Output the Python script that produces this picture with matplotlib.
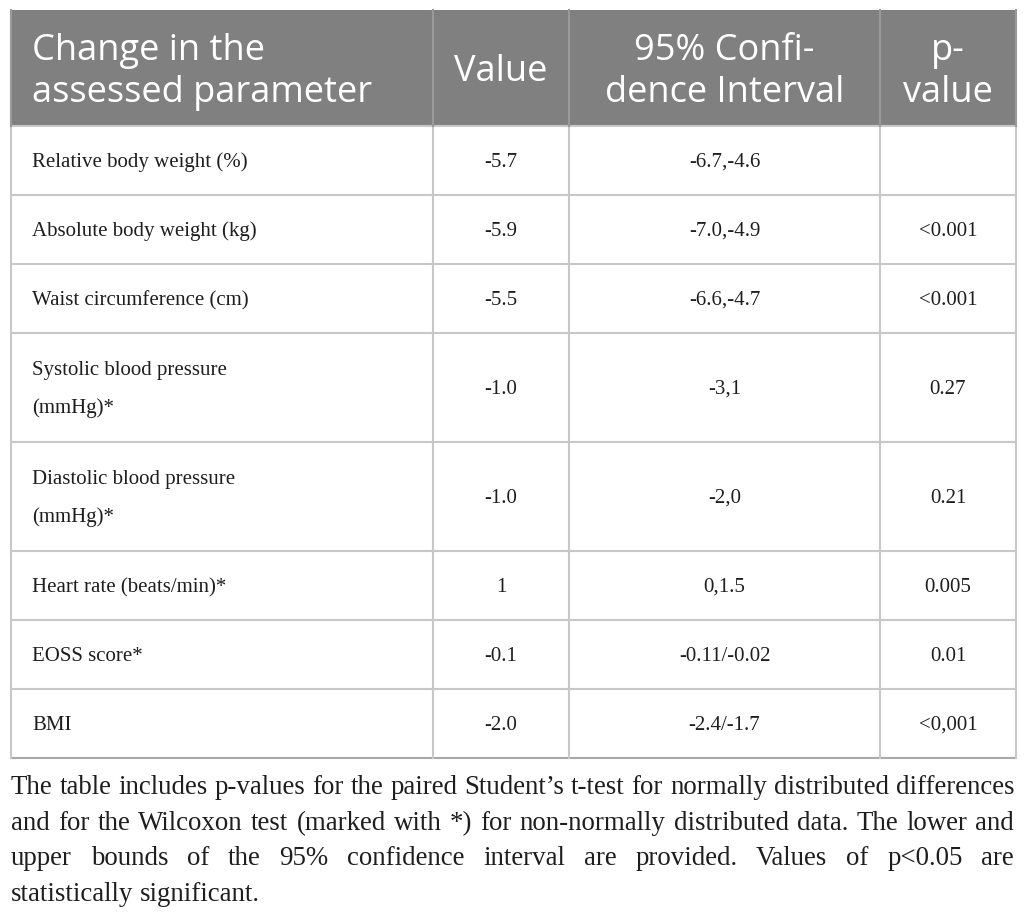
import matplotlib
matplotlib.use("Agg")
from matplotlib import pyplot as plt
from matplotlib.patches import Rectangle

# table content
header = ["Change in the\nassessed parameter", "Value", "95% Confi-\ndence Interval", "p-\nvalue"]
parameters = [
    "Relative body weight (%)",
    "Absolute body weight (kg)",
    "Waist circumference (cm)",
    "Systolic blood pressure\n(mmHg)*",
    "Diastolic blood pressure\n(mmHg)*",
    "Heart rate (beats/min)*",
    "EOSS score*",
    "BMI",
]
values = ["-5.7", "-5.9", "-5.5", "-1.0", "-1.0", "1", "-0.1", "-2.0"]
conf_int = ["-6.7,-4.6", "-7.0,-4.9", "-6.6,-4.7", "-3,1", "-2,0", "0,1.5", "-0.11/-0.02", "-2.4/-1.7"]
p_values = ["", "<0.001", "<0.001", "0.27", "0.21", "0.005", "0.01", "<0,001"]
foot_lines = [
    "The table includes p-values for the paired Student\u2019s t-test for normally distributed differences",
    "and for the Wilcoxon test (marked with *) for non-normally distributed data. The lower and",
    "upper bounds of the 95% confidence interval are provided. Values of p<0.05 are",
    "statistically significant.",
]

# layout in pixels
W, H = 1026, 918
col_x = [11, 433, 569, 880, 1016]
row_y = [10, 126, 195, 264, 333, 442, 551, 620, 689, 758]

fig = plt.figure(figsize=(W / 100, H / 100), dpi=100)
ax = fig.add_axes([0, 0, 1, 1])
ax.set_xlim(0, W)
ax.set_ylim(H, 0)
ax.axis("off")

# header band
ax.add_patch(Rectangle((col_x[0], row_y[0]), col_x[-1] - col_x[0], row_y[1] - row_y[0],
                       facecolor="#808080", edgecolor="none"))

# grid lines
line_c = "#c8c8c8"
for y in row_y[1:-1]:
    ax.plot([col_x[0], col_x[-1]], [y, y], color=line_c, lw=1.5, solid_capstyle="butt")
ax.plot([col_x[0], col_x[-1]], [row_y[-1], row_y[-1]], color="#a8a8a8", lw=1.5)
for x in col_x:
    ax.plot([x, x], [row_y[1], row_y[-1]], color=line_c, lw=1.5)
    ax.plot([x, x], [row_y[0], row_y[1]], color="#9a9a9a", lw=1.5)

head_font = ["Open Sans", "DejaVu Sans"]
body_font = ["Liberation Serif", "DejaVu Serif"]
ink = "#1e1e1e"
hy = (row_y[0] + row_y[1]) / 2 + 4
ax.text(32, hy, header[0], ha="left", va="center", color="white", fontsize=26,
        family=head_font, linespacing=1.22)
for j in range(1, 4):
    cx = (col_x[j] + col_x[j + 1]) / 2
    ax.text(cx, hy, header[j], ha="center", va="center", color="white", fontsize=26,
            family=head_font, linespacing=1.22, multialignment="center")

cols = [values, conf_int, p_values]
for i in range(len(parameters)):
    cy = (row_y[i + 1] + row_y[i + 2]) / 2 + 2
    ax.text(32, cy, parameters[i], ha="left", va="center", fontsize=15,
            family=body_font, color=ink, linespacing=2.2)
    for j, col in enumerate(cols):
        cx = (col_x[j + 1] + col_x[j + 2]) / 2
        ax.text(cx, cy, col[i], ha="center", va="center", fontsize=15,
                family=body_font, color=ink)

# footnote, justified line by line
fig.canvas.draw()
renderer = fig.canvas.get_renderer()
left, right = 11, 1014
probe = ax.text(0, 0, foot_lines[0], fontsize=16, family=body_font)
fs = 16 * (right - left) / probe.get_window_extent(renderer).width
probe.remove()
base = [794, 830, 865, 901]
for k, line in enumerate(foot_lines):
    words = line.split(" ")
    objs = [ax.text(0, base[k], w, ha="left", va="baseline", fontsize=fs,
                    family=body_font, color=ink) for w in words]
    widths = [o.get_window_extent(renderer).width for o in objs]
    if k < len(foot_lines) - 1:
        gap = (right - left - sum(widths)) / (len(words) - 1)
    else:
        sp = ax.text(0, 0, "a a", fontsize=fs, family=body_font)
        sa = ax.text(0, 0, "aa", fontsize=fs, family=body_font)
        gap = sp.get_window_extent(renderer).width - sa.get_window_extent(renderer).width
        sp.remove()
        sa.remove()
    x = left
    for o, w in zip(objs, widths):
        o.set_x(x)
        x += w + gap

fig.savefig("out.png", dpi=100)
